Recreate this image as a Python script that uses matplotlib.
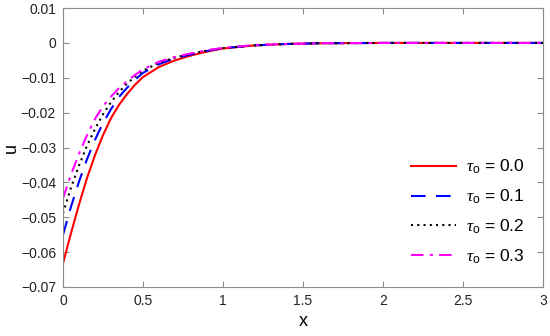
import matplotlib
matplotlib.use('Agg')
import matplotlib.pyplot as plt
from matplotlib.ticker import FuncFormatter

plt.rcParams['font.family'] = ['Liberation Sans', 'DejaVu Sans']
plt.rcParams['mathtext.fontset'] = 'custom'
plt.rcParams['mathtext.rm'] = 'Liberation Sans'
plt.rcParams['mathtext.it'] = 'Liberation Serif:italic'

x = [0, 0.05, 0.1, 0.15, 0.2, 0.25, 0.3, 0.35, 0.4, 0.45, 0.5, 0.6, 0.7, 0.8,
     0.9, 1.0, 1.2, 1.4, 1.6, 2.0, 2.5, 3.0]

u_00 = [-0.0633, -0.0546, -0.0464, -0.0388, -0.0322, -0.0265, -0.0216, -0.0178,
        -0.0147, -0.0120, -0.0098, -0.0069, -0.0050, -0.0036, -0.0025, -0.0016,
        -0.0007, -0.0003, -0.0001, 0, 0, 0]
u_01 = [-0.0551, -0.0470, -0.0398, -0.0334, -0.0278, -0.0230, -0.0190, -0.0155,
        -0.0129, -0.0106, -0.0086, -0.0061, -0.0044, -0.0033, -0.0023, -0.0015,
        -0.0007, -0.0003, -0.0001, 0, 0, 0]
u_02 = [-0.0489, -0.0415, -0.0352, -0.0295, -0.0247, -0.0205, -0.0170, -0.0141,
        -0.0117, -0.0097, -0.0080, -0.0057, -0.0042, -0.0031, -0.0022, -0.0015,
        -0.0007, -0.0003, -0.0001, 0, 0, 0]
u_03 = [-0.0446, -0.0378, -0.0318, -0.0265, -0.0218, -0.0182, -0.0154, -0.0130,
        -0.0110, -0.0092, -0.0076, -0.0054, -0.0040, -0.0030, -0.0021, -0.0014,
        -0.0006, -0.0003, -0.0001, 0, 0, 0]

labels = ['0.0', '0.1', '0.2', '0.3']

fig = plt.figure(figsize=(5.5, 3.36), dpi=100)
ax = fig.add_axes([0.1145, 0.146, 0.8725, 0.830])

ax.plot(x, u_00, color='#ff0000', lw=1.5, ls='-')
ax.plot(x, u_01, color='#0000ff', lw=1.5, ls=(0, (7, 5)))
ax.plot(x, u_02, color='black', lw=1.5, ls=(0, (1, 2)))
ax.plot(x, u_03, color='#ff00ff', lw=1.5, ls=(0, (6, 3, 1.5, 3)))

ax.legend([r'$\mathit{\tau}_{\mathrm{o}}$ = ' + s for s in labels],
          loc='lower right', frameon=False, fontsize=12.5, handlelength=2.6,
          handletextpad=0.6, labelspacing=0.66, bbox_to_anchor=(0.995, 0.02))

ax.set_xlim(0, 3)
ax.set_ylim(-0.07, 0.01)
ax.set_xticks([0, 0.5, 1, 1.5, 2, 2.5, 3])
ax.set_yticks([0.01, 0, -0.01, -0.02, -0.03, -0.04, -0.05, -0.06, -0.07])
fmt = FuncFormatter(lambda v, p: ('%g' % round(v, 4)).replace('-', '\u2212'))
ax.xaxis.set_major_formatter(fmt)
ax.yaxis.set_major_formatter(fmt)

for s in ax.spines.values():
    s.set_color('#8c8c8c')
    s.set_linewidth(0.8)
ax.tick_params(direction='in', top=True, right=True, length=4, color='#8c8c8c',
               labelsize=10, labelcolor='#222222', pad=5)

ax.set_xlabel('x', fontsize=13, labelpad=4)
ax.set_ylabel('u', fontsize=13, labelpad=1)

fig.savefig('out.png', dpi=100)
